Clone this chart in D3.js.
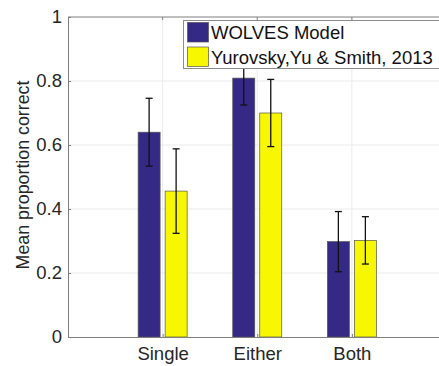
<!DOCTYPE html>
<html><head><meta charset="utf-8">
<script src="https://cdn.jsdelivr.net/npm/d3@7"></script>
<style>body{margin:0;background:#fff}svg{display:block}text{font-family:"Liberation Sans",Arial,sans-serif}</style>
</head><body>
<svg id="c" width="439" height="366"></svg>
<script>
const categories = ["Single","Either","Both"];
const series = ["WOLVES Model","Yurovsky,Yu & Smith, 2013"];
const wolves = [0.640, 0.809, 0.298];
const wolvesErr = [0.106, 0.084, 0.094];
const yurovsky = [0.456, 0.700, 0.302];
const yurovskyErr = [0.132, 0.105, 0.074];
const yTicks = [0, 0.2, 0.4, 0.6, 0.8, 1];
const colors = ["#342a86", "#f7f700"];

(function(){
const svg = d3.select("#c");
const pL = 68, pT = 17, pB = 337, pR = 446.5;
const x = d3.scaleLinear().domain([0, 4]).range([pL, pR]);
const y = d3.scaleLinear().domain([0, 1]).range([pB, pT]);
const offs = [-13.5, 13.5], bw = 22;

// grid
svg.append("g").selectAll("line").data(yTicks.slice(1,-1)).join("line")
  .attr("x1", pL).attr("x2", pR).attr("y1", d=>y(d)).attr("y2", d=>y(d))
  .attr("stroke", "#ebebeb").attr("stroke-width", 1);
svg.append("g").selectAll("line").data(categories).join("line")
  .attr("x1", (d,i)=>x(i+1)).attr("x2", (d,i)=>x(i+1)).attr("y1", pT).attr("y2", pB)
  .attr("stroke", "#ebebeb").attr("stroke-width", 1);

const data = [wolves, yurovsky], errs = [wolvesErr, yurovskyErr];
data.forEach((vals, s) => {
  svg.append("g").selectAll("rect").data(vals).join("rect")
    .attr("x", (d,i)=>x(i+1)+offs[s]-bw/2).attr("width", bw)
    .attr("y", d=>y(d)).attr("height", d=>y(0)-y(d))
    .attr("fill", colors[s]).attr("stroke", "#555").attr("stroke-width", 0.7);
});
data.forEach((vals, s) => {
  const g = svg.append("g").attr("stroke", "#111").attr("stroke-width", 1.3);
  vals.forEach((v, i) => {
    const cx = x(i+1)+offs[s], e = errs[s][i];
    g.append("line").attr("x1", cx).attr("x2", cx).attr("y1", y(v+e)).attr("y2", y(v-e));
    g.append("line").attr("x1", cx-3.5).attr("x2", cx+3.5).attr("y1", y(v+e)).attr("y2", y(v+e));
    g.append("line").attr("x1", cx-3.5).attr("x2", cx+3.5).attr("y1", y(v-e)).attr("y2", y(v-e));
  });
});

// axes
const ya = d3.axisLeft(y).tickValues(yTicks).tickFormat(d=>d===0||d===1?String(d):d.toFixed(1)).tickSize(-3).tickPadding(6);
const gy = svg.append("g").attr("transform", `translate(${pL},0)`).call(ya);
gy.select(".domain").attr("stroke", "#7f7f7f");
gy.selectAll(".tick line").attr("stroke", "#7f7f7f");
gy.selectAll("text").attr("font-size", 18.5).attr("fill", "#262626").attr("font-family", '"Liberation Sans",Arial,sans-serif');

const xa = d3.axisBottom(x).tickValues([1,2,3]).tickFormat((d)=>categories[d-1]).tickSize(-3).tickPadding(10);
const gx = svg.append("g").attr("transform", `translate(0,${pB})`).call(xa);
gx.select(".domain").attr("stroke", "#7f7f7f");
gx.selectAll(".tick line").attr("stroke", "#7f7f7f");
gx.selectAll("text").attr("font-size", 18.5).attr("fill", "#262626").attr("font-family", '"Liberation Sans",Arial,sans-serif');

svg.append("line").attr("x1", pL).attr("x2", pR).attr("y1", pT).attr("y2", pT).attr("stroke", "#7f7f7f");
const gt = svg.append("g");
[1,2,3].forEach(i=>gt.append("line").attr("x1", x(i)).attr("x2", x(i)).attr("y1", pT).attr("y2", pT+3).attr("stroke", "#7f7f7f"));

svg.append("text").attr("transform", `translate(29,175) rotate(-90)`)
  .attr("text-anchor", "middle").attr("font-size", 17.8).attr("fill", "#262626").text("Mean proportion correct");

// legend
const lg = svg.append("g");
lg.append("rect").attr("x", 183.5).attr("y", 20.5).attr("width", 262).attr("height", 48)
  .attr("fill", "#fff").attr("stroke", "#8c8c8c").attr("stroke-width", 1);
series.forEach((s, i) => {
  lg.append("rect").attr("x", 187.5).attr("y", 22.5 + i*24.5).attr("width", 21).attr("height", 19.5)
    .attr("fill", colors[i]).attr("stroke", "#555").attr("stroke-width", 0.7);
  lg.append("text").attr("x", 211).attr("y", 39 + i*24.5).attr("font-size", 18.5).attr("fill", "#111").text(s);
});
})();
</script>
</body></html>
